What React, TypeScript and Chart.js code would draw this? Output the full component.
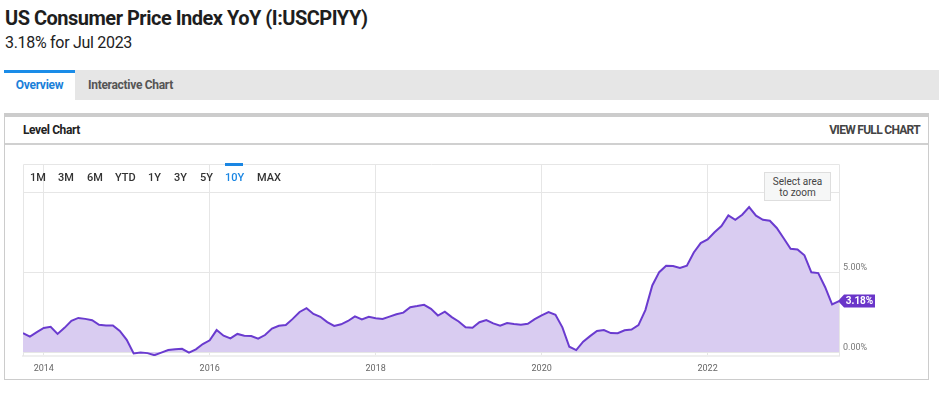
import React, { useEffect, useRef } from "react";
import { Chart, registerables } from "chart.js";

Chart.register(...registerables);

// ---- data ----
const months: string[] = [
  "2013-09", "2013-10", "2013-11", "2013-12",
  "2014-01", "2014-02", "2014-03", "2014-04", "2014-05", "2014-06", "2014-07", "2014-08", "2014-09", "2014-10", "2014-11", "2014-12",
  "2015-01", "2015-02", "2015-03", "2015-04", "2015-05", "2015-06", "2015-07", "2015-08", "2015-09", "2015-10", "2015-11", "2015-12",
  "2016-01", "2016-02", "2016-03", "2016-04", "2016-05", "2016-06", "2016-07", "2016-08", "2016-09", "2016-10", "2016-11", "2016-12",
  "2017-01", "2017-02", "2017-03", "2017-04", "2017-05", "2017-06", "2017-07", "2017-08", "2017-09", "2017-10", "2017-11", "2017-12",
  "2018-01", "2018-02", "2018-03", "2018-04", "2018-05", "2018-06", "2018-07", "2018-08", "2018-09", "2018-10", "2018-11", "2018-12",
  "2019-01", "2019-02", "2019-03", "2019-04", "2019-05", "2019-06", "2019-07", "2019-08", "2019-09", "2019-10", "2019-11", "2019-12",
  "2020-01", "2020-02", "2020-03", "2020-04", "2020-05", "2020-06", "2020-07", "2020-08", "2020-09", "2020-10", "2020-11", "2020-12",
  "2021-01", "2021-02", "2021-03", "2021-04", "2021-05", "2021-06", "2021-07", "2021-08", "2021-09", "2021-10", "2021-11", "2021-12",
  "2022-01", "2022-02", "2022-03", "2022-04", "2022-05", "2022-06", "2022-07", "2022-08", "2022-09", "2022-10", "2022-11", "2022-12",
  "2023-01", "2023-02", "2023-03", "2023-04", "2023-05", "2023-06", "2023-07",
];

const cpiYoY: number[] = [
  1.18, 0.96, 1.24, 1.5,
  1.58, 1.13, 1.51, 1.95, 2.13, 2.07, 1.99, 1.7, 1.66, 1.66, 1.32, 0.76,
  -0.09, -0.03, -0.07, -0.2, -0.04, 0.12, 0.17, 0.2, -0.04, 0.17, 0.5, 0.73,
  1.37, 1.02, 0.85, 1.13, 1.02, 1.0, 0.83, 1.06, 1.46, 1.64, 1.69, 2.07,
  2.5, 2.74, 2.38, 2.2, 1.87, 1.63, 1.73, 1.94, 2.23, 2.04, 2.2, 2.11,
  2.07, 2.21, 2.36, 2.46, 2.8, 2.87, 2.95, 2.7, 2.28, 2.52, 2.18, 1.91,
  1.55, 1.52, 1.86, 2.0, 1.79, 1.65, 1.81, 1.75, 1.71, 1.76, 2.05, 2.29,
  2.49, 2.33, 1.54, 0.33, 0.12, 0.65, 0.99, 1.31, 1.37, 1.18, 1.17, 1.36,
  1.4, 1.68, 2.62, 4.16, 4.99, 5.39, 5.37, 5.25, 5.39, 6.22, 6.81, 7.04,
  7.48, 7.87, 8.54, 8.26, 8.58, 9.06, 8.52, 8.26, 8.2, 7.75, 7.11, 6.45,
  6.41, 6.04, 4.98, 4.93, 4.05, 2.97, 3.18,
];

const xTicks: number[] = [2014, 2016, 2018, 2020, 2022];
const yTicks: number[] = [0, 5, 10];
const yTickLabels: string[] = ["0.00%", "5.00%", ""];
const rangeButtons: string[] = ["1M", "3M", "6M", "YTD", "1Y", "3Y", "5Y", "10Y", "MAX"];
const rangeButtonX: number[] = [30, 58, 87, 115, 148, 174, 200, 225, 257];
const activeRange = "10Y";

// month-end position as a fractional year
const toYear = (m: string) => {
  const [y, mo] = m.split("-").map(Number);
  return y + mo / 12;
};

const FONT = "Roboto, 'Noto Sans', sans-serif";
const LINE = "#6a3bcf";
const FILL = "#d9ccf1";

export default function App() {
  const canvasRef = useRef<HTMLCanvasElement | null>(null);

  useEffect(() => {
    const canvas = canvasRef.current;
    if (!canvas) return;
    const points = months.map((m, i) => ({ x: toYear(m), y: cpiYoY[i] }));
    const lastVal = cpiYoY[cpiYoY.length - 1];

    const framePlugin = {
      id: "frame",
      beforeDatasetsDraw(chart: any) {
        const { ctx, chartArea } = chart;
        ctx.save();
        ctx.strokeStyle = "#e6e6e6";
        ctx.lineWidth = 1;
        ctx.beginPath();
        ctx.moveTo(chartArea.left + 0.5, chartArea.bottom);
        ctx.lineTo(chartArea.left + 0.5, chartArea.top + 0.5);
        ctx.lineTo(chartArea.right + 0.5, chartArea.top + 0.5);
        ctx.lineTo(chartArea.right + 0.5, chartArea.bottom);
        ctx.stroke();
        ctx.restore();
      },
      afterDraw(chart: any) {
        const { ctx, chartArea } = chart;
        const y = chart.scales.y.getPixelForValue(lastVal);
        const x0 = chartArea.right;
        ctx.save();
        ctx.fillStyle = "#6a35c9";
        ctx.beginPath();
        ctx.moveTo(x0 - 1, y);
        ctx.lineTo(x0 + 5, y - 6.5);
        ctx.lineTo(x0 + 36, y - 6.5);
        ctx.lineTo(x0 + 36, y + 6.5);
        ctx.lineTo(x0 + 5, y + 6.5);
        ctx.closePath();
        ctx.fill();
        ctx.fillStyle = "#ffffff";
        ctx.font = `bold 10px ${FONT}`;
        ctx.textAlign = "center";
        ctx.textBaseline = "middle";
        ctx.fillText(lastVal.toFixed(2) + "%", x0 + 20.5, y + 0.5);
        ctx.restore();
      },
    };

    const chart = new Chart(canvas, {
      type: "line",
      data: {
        datasets: [
          {
            data: points,
            borderColor: LINE,
            backgroundColor: FILL,
            borderWidth: 2,
            pointRadius: 0,
            tension: 0,
            fill: "origin",
          },
        ],
      },
      options: {
        animation: false,
        responsive: false,
        maintainAspectRatio: false,
        layout: { padding: { left: 23, top: 14, right: 0, bottom: 0 } },
        plugins: { legend: { display: false }, tooltip: { enabled: false } },
        scales: {
          x: {
            type: "linear",
            min: toYear(months[0]),
            max: toYear(months[months.length - 1]),
            afterBuildTicks: (s: any) => {
              s.ticks = xTicks.map((v) => ({ value: v }));
            },
            afterFit: (s: any) => {
              s.height = 38;
            },
            grid: { color: "#e6e6e6", drawTicks: false },
            border: { color: "#efefef", width: 2 },
            ticks: {
              color: "#666",
              font: { family: FONT, size: 9 },
              padding: 7,
              maxRotation: 0,
              callback: (v: any) => String(v),
            },
          },
          y: {
            position: "right",
            min: -0.25,
            max: 11.75,
            afterBuildTicks: (s: any) => {
              s.ticks = yTicks.map((v) => ({ value: v }));
            },
            afterFit: (s: any) => {
              s.width = 100;
            },
            grid: { color: "#e6e6e6", drawTicks: false },
            border: { display: false },
            ticks: {
              color: "#777",
              font: { family: FONT, size: 9 },
              padding: 4,
              labelOffset: -4,
              callback: (v: any) => {
                const i = yTicks.indexOf(Number(v));
                return i >= 0 ? yTickLabels[i] : "";
              },
            },
          },
        },
      },
      plugins: [framePlugin],
    } as any);
    return () => chart.destroy();
  }, []);

  const abs = (s: React.CSSProperties): React.CSSProperties => ({ position: "absolute", ...s });

  return (
    <div style={abs({ left: 0, top: 0, width: 939, height: 394, background: "#fff", fontFamily: FONT, overflow: "hidden" })}>
      <div style={abs({ left: 5, top: 5, fontSize: 20, fontWeight: 700, color: "#1e1e1e", whiteSpace: "nowrap", lineHeight: "26px", letterSpacing: -0.5 })}>
        US Consumer Price Index YoY (I:USCPIYY)
      </div>
      <div style={abs({ left: 5, top: 32, fontSize: 16, color: "#222", whiteSpace: "nowrap", lineHeight: "22px", letterSpacing: -0.3 })}>
        3.18% for Jul 2023
      </div>

      {/* tabs */}
      <div style={abs({ left: 4, top: 70, width: 935, height: 30, background: "#e6e6e6" })} />
      <div style={abs({ left: 4, top: 70, width: 71, height: 27, background: "#fff", borderTop: "3px solid #1a8ce8" })} />
      <div style={abs({ left: 4, top: 76, width: 71, textAlign: "center", fontSize: 12, fontWeight: 700, color: "#1a80d9", lineHeight: "18px", letterSpacing: -0.3 })}>
        Overview
      </div>
      <div style={abs({ left: 88, top: 76, fontSize: 12, fontWeight: 700, color: "#555", lineHeight: "18px", whiteSpace: "nowrap", letterSpacing: -0.3 })}>
        Interactive Chart
      </div>

      {/* panel */}
      <div style={abs({ left: 4, top: 113, width: 925, height: 4, background: "#cccccc" })} />
      <div style={abs({ left: 4, top: 117, width: 923, height: 262, borderLeft: "1px solid #cccccc", borderRight: "1px solid #cccccc", borderBottom: "1px solid #cccccc" })} />
      <div style={abs({ left: 23, top: 121, fontSize: 12, fontWeight: 700, color: "#222", lineHeight: "18px", whiteSpace: "nowrap", letterSpacing: -0.4 })}>
        Level Chart
      </div>
      <div style={abs({ left: 700, width: 220, top: 121, textAlign: "right", fontSize: 12, fontWeight: 700, color: "#444", lineHeight: "18px", whiteSpace: "nowrap", letterSpacing: -0.7 })}>
        VIEW FULL CHART
      </div>
      <div style={abs({ left: 5, top: 143, width: 923, height: 2, background: "#d0d0d0" })} />

      <canvas ref={canvasRef} width={939} height={244} style={abs({ left: 0, top: 150, width: 939, height: 244 })} />

      {/* range selector */}
      {rangeButtons.map((b, i) => (
        <div
          key={b}
          style={abs({
            left: rangeButtonX[i],
            top: 171,
            fontSize: 11,
            fontWeight: 500,
            color: b === activeRange ? "#1a86e3" : "#333",
            lineHeight: "14px",
            whiteSpace: "nowrap",
          })}
        >
          {b}
        </div>
      ))}
      <div style={abs({ left: 225, top: 163, width: 18, height: 3, background: "#1a86e3" })} />
      <div
        style={abs({
          left: 764,
          top: 172,
          width: 67,
          height: 29,
          background: "#f6f7f7",
          border: "1px solid #dedede",
          fontSize: 10,
          color: "#444",
          textAlign: "center",
          lineHeight: "11px",
          paddingTop: 3,
          boxSizing: "border-box",
        })}
      >
        Select area
        <br />
        to zoom
      </div>
    </div>
  );
}
